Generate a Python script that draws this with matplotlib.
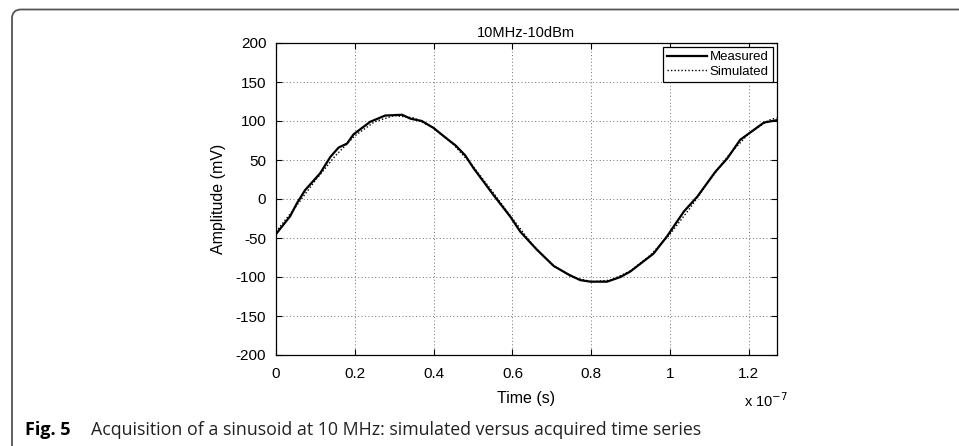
import matplotlib
matplotlib.use("Agg")
import matplotlib.pyplot as plt
from matplotlib.path import Path
from matplotlib.patches import PathPatch

# time in units of 1e-7 s
t_meas = [0.000, 0.036, 0.053, 0.074, 0.112, 0.138, 0.159, 0.180, 0.197, 0.239,
          0.277, 0.320, 0.341, 0.370, 0.400, 0.417, 0.442, 0.455, 0.480, 0.502,
          0.552, 0.595, 0.620, 0.662, 0.705, 0.743, 0.772, 0.798, 0.840, 0.874,
          0.899, 0.958, 0.992, 1.035, 1.069, 1.115, 1.145, 1.178, 1.200, 1.238,
          1.270]
v_meas = [-45, -22, -5.5, 11.5, 33, 54, 66, 71, 83, 99,
          107, 108, 103, 100, 91, 84, 74, 69, 56, 39,
          5, -23, -42, -65, -86, -97, -104, -106, -106, -100,
          -93, -70, -48, -16, 3, 35, 52, 76, 84, 98,
          101]

t_sim = [0.00, 0.05, 0.10, 0.15, 0.20, 0.25, 0.30, 0.35, 0.40, 0.45,
         0.50, 0.55, 0.60, 0.65, 0.70, 0.75, 0.80, 0.85, 0.90, 0.95,
         1.00, 1.05, 1.10, 1.15, 1.20, 1.25, 1.27]
v_sim = [-42, -10, 24, 55, 81, 99, 107, 104, 91, 70,
         42, 9, -25, -58, -84, -100, -106, -104, -92, -72,
         -45, -12, 24, 57, 84, 101, 104]

xticks = [0, 0.2, 0.4, 0.6, 0.8, 1.0, 1.2]
xticklabels = ["0", "0.2", "0.4", "0.6", "0.8", "1", "1.2"]
yticks = [-200, -150, -100, -50, 0, 50, 100, 150, 200]

W, H = 959, 446
plt.rcParams['font.family'] = ['Liberation Sans', 'DejaVu Sans']
plt.rcParams['axes.unicode_minus'] = False
fig = plt.figure(figsize=(W / 100, H / 100), dpi=100)

ax = fig.add_axes([276 / W, 1 - 355 / H, 500.5 / W, 312 / H])
ax.plot(t_meas, v_meas, color='black', lw=1.6, label='Measured')
ax.plot(t_sim, v_sim, color='black', lw=1.0, linestyle=(0, (1, 1.5)), label='Simulated')
ax.set_xlim(0, 1.27)
ax.set_ylim(-200, 200)
ax.set_xticks(xticks)
ax.set_xticklabels(xticklabels)
ax.set_yticks(yticks)
ax.tick_params(direction='in', length=4, width=0.8, top=True, right=True,
               labelsize=11, pad=7)
ax.tick_params(axis='x', pad=9)
ax.grid(True, color='#707070', linestyle=(0, (1, 2.5)), lw=0.7)
for s in ax.spines.values():
    s.set_linewidth(0.9)
ax.set_title('10MHz-10dBm', fontsize=10.5, pad=4)
ax.set_xlabel('Time (s)', fontsize=11.5, labelpad=7)
ax.set_ylabel('Amplitude (mV)', fontsize=11.5, labelpad=7)
ax.text(1.0 - 32 / 500.5, -0.145, r'x 10$^{-7}$', transform=ax.transAxes, fontsize=10.5,
        ha='left', va='center')
leg = ax.legend(loc='upper right', fontsize=9.5, frameon=True, fancybox=False,
                edgecolor='black', framealpha=1, borderaxespad=0.3,
                handlelength=3.0, handletextpad=0.2, borderpad=0.3,
                labelspacing=0.2)
leg.get_frame().set_linewidth(0.9)

# frame border (open on right/bottom)
x0, y0 = 12 / W, 1 - 9.5 / H
r = 9
verts = [(x0, 0), (x0, 1 - (9.5 + r) / H), (x0, y0), (x0 + r / W, y0), (1.0, y0)]
codes = [Path.MOVETO, Path.LINETO, Path.CURVE3, Path.CURVE3, Path.LINETO]
fig.patches.append(PathPatch(Path(verts, codes), transform=fig.transFigure,
                             fill=False, edgecolor='#555555', lw=1.3))

fig.text(25 / W, 1 - 430 / H, 'Fig. 5', fontsize=13, fontweight='bold',
         family=['Open Sans', 'DejaVu Sans'], va='center', ha='left')
fig.text(91 / W, 1 - 430 / H,
         'Acquisition of a sinusoid at 10 MHz: simulated versus acquired time series',
         fontsize=12.8, family=['Open Sans', 'DejaVu Sans'], va='center', ha='left',
         color='#222222')

fig.savefig('out.png', dpi=100)
